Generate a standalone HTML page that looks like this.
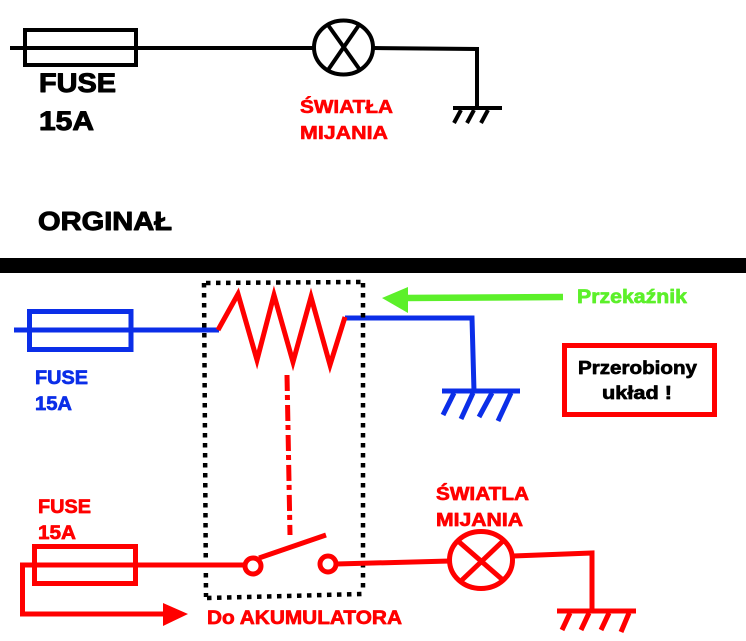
<!DOCTYPE html>
<html><head><meta charset="utf-8"><style>
html,body{margin:0;padding:0;background:#fff;}
svg{display:block;}
text{font-family:"Liberation Sans",Arial,sans-serif;font-weight:bold;stroke-linejoin:round;}
</style></head><body>
<svg width="746" height="641" viewBox="0 0 746 641" xmlns="http://www.w3.org/2000/svg">
<rect x="0" y="0" width="746" height="641" fill="#fff"/>

<!-- TOP (original) -->
<g stroke="#000" stroke-width="4" fill="none">
  <rect x="25" y="30" width="111" height="35"/>
  <line x1="10" y1="48" x2="314" y2="48"/>
  <ellipse cx="343.5" cy="47.5" rx="29.5" ry="27"/>
  <line x1="328" y1="25" x2="360" y2="70"/>
  <line x1="359" y1="25" x2="328" y2="70"/>
  <polyline points="373,48 477,49 477,108"/>
  <line x1="453" y1="108" x2="502" y2="108"/>
  <line x1="461" y1="110" x2="454" y2="123"/>
  <line x1="474" y1="110" x2="467" y2="123"/>
  <line x1="488" y1="110" x2="481" y2="123"/>
</g>
<text x="39" y="92" font-size="26.5" fill="#000" stroke="#000" stroke-width="1" textLength="77" lengthAdjust="spacingAndGlyphs">FUSE</text>
<text x="39" y="130" font-size="27" fill="#000" stroke="#000" stroke-width="1" textLength="55" lengthAdjust="spacingAndGlyphs">15A</text>
<text x="300" y="113" font-size="18" fill="#f00" stroke="#f00" stroke-width="0.6" textLength="93" lengthAdjust="spacingAndGlyphs">ŚWIATŁA</text>
<text x="300" y="139" font-size="18" fill="#f00" stroke="#f00" stroke-width="0.6" textLength="88" lengthAdjust="spacingAndGlyphs">MIJANIA</text>
<text x="38" y="230" font-size="26" fill="#000" stroke="#000" stroke-width="1" textLength="134" lengthAdjust="spacingAndGlyphs">ORGINAŁ</text>

<!-- separator bar -->
<rect x="0" y="258" width="746" height="15" fill="#000"/>

<!-- BOTTOM: relay coil circuit (blue) -->
<g stroke="#0b2ee8" stroke-width="5" fill="none">
  <rect x="29.5" y="311.5" width="101.5" height="38"/>
  <line x1="14" y1="330" x2="219" y2="330"/>
  <polyline points="345,318 472,318 474,391"/>
  <line x1="442" y1="391" x2="520" y2="391"/>
  <line x1="454" y1="393" x2="443" y2="415"/>
  <line x1="473" y1="393" x2="461" y2="419"/>
  <line x1="492" y1="393" x2="479" y2="417"/>
  <line x1="511" y1="393" x2="498" y2="421"/>
</g>
<text x="35" y="384" font-size="19.5" fill="#0b2ee8" stroke="#0b2ee8" stroke-width="0.7" textLength="53" lengthAdjust="spacingAndGlyphs">FUSE</text>
<text x="35" y="410" font-size="19.5" fill="#0b2ee8" stroke="#0b2ee8" stroke-width="0.7" textLength="37" lengthAdjust="spacingAndGlyphs">15A</text>

<!-- coil zigzag -->
<polyline points="218,330 238,294 257,360 274,295 293,362 311,297 330,365 345,317" stroke="#f00" stroke-width="5" fill="none" stroke-linejoin="miter"/>

<!-- dash-dot link -->
<line x1="287" y1="375" x2="290" y2="535" stroke="#f00" stroke-width="5" stroke-dasharray="16 4 5 5"/>

<!-- dotted relay box -->
<g stroke="#000" stroke-width="4.5" fill="none" stroke-dasharray="4.5 5.5">
  <line x1="206" y1="283" x2="362" y2="282"/>
  <line x1="204" y1="283" x2="206" y2="597"/>
  <line x1="363" y1="283" x2="363" y2="593"/>
  <line x1="207" y1="598" x2="363" y2="594"/>
</g>

<!-- green arrow -->
<line x1="405" y1="298" x2="563" y2="297" stroke="#5cf02a" stroke-width="6.5"/>
<polygon points="382,298 408,287 408,313" fill="#5cf02a"/>
<text x="577" y="303" font-size="19.5" fill="#5cf02a" stroke="#5cf02a" stroke-width="0.7" textLength="110" lengthAdjust="spacingAndGlyphs">Przekaźnik</text>

<!-- red box -->
<rect x="564.5" y="345.5" width="150" height="69" stroke="#f00" stroke-width="5" fill="none"/>
<text x="578" y="374" font-size="18.5" fill="#000" stroke="#000" stroke-width="0.7" textLength="119" lengthAdjust="spacingAndGlyphs">Przerobiony</text>
<text x="602" y="399" font-size="18.5" fill="#000" stroke="#000" stroke-width="0.7" textLength="70" lengthAdjust="spacingAndGlyphs">układ !</text>

<!-- BOTTOM: load circuit (red) -->
<g stroke="#f00" stroke-width="5" fill="none">
  <rect x="34.5" y="546.5" width="101" height="37"/>
  <line x1="20" y1="565" x2="245" y2="565"/>
  <polyline points="22.5,563 22.5,614 165,614"/>
  <circle cx="253" cy="566" r="8"/>
  <line x1="259" y1="558" x2="326" y2="535"/>
  <circle cx="328" cy="564" r="8"/>
  <line x1="336" y1="564" x2="450" y2="561"/>
  <ellipse cx="481" cy="560" rx="31.5" ry="28.5"/>
  <line x1="458" y1="541" x2="504" y2="581"/>
  <line x1="503" y1="541" x2="462" y2="580"/>
  <polyline points="513,556 592,553 592,611"/>
  <line x1="557" y1="611" x2="636" y2="611"/>
  <line x1="570" y1="613" x2="562" y2="630"/>
  <line x1="589" y1="613" x2="581" y2="630"/>
  <line x1="609" y1="613" x2="601" y2="630"/>
  <line x1="629" y1="613" x2="621" y2="632"/>
</g>
<polygon points="188,614 163,603 163,626" fill="#f00"/>
<text x="38" y="513" font-size="19.5" fill="#f00" stroke="#f00" stroke-width="0.7" textLength="53" lengthAdjust="spacingAndGlyphs">FUSE</text>
<text x="38" y="539" font-size="19.5" fill="#f00" stroke="#f00" stroke-width="0.7" textLength="38" lengthAdjust="spacingAndGlyphs">15A</text>
<text x="436" y="500" font-size="18.5" fill="#f00" stroke="#f00" stroke-width="0.7" textLength="93" lengthAdjust="spacingAndGlyphs">ŚWIATLA</text>
<text x="436" y="526" font-size="18.5" fill="#f00" stroke="#f00" stroke-width="0.7" textLength="87" lengthAdjust="spacingAndGlyphs">MIJANIA</text>
<text x="207" y="624" font-size="19.5" fill="#f00" stroke="#f00" stroke-width="0.7" textLength="195" lengthAdjust="spacingAndGlyphs">Do AKUMULATORA</text>
</svg>
</body></html>
